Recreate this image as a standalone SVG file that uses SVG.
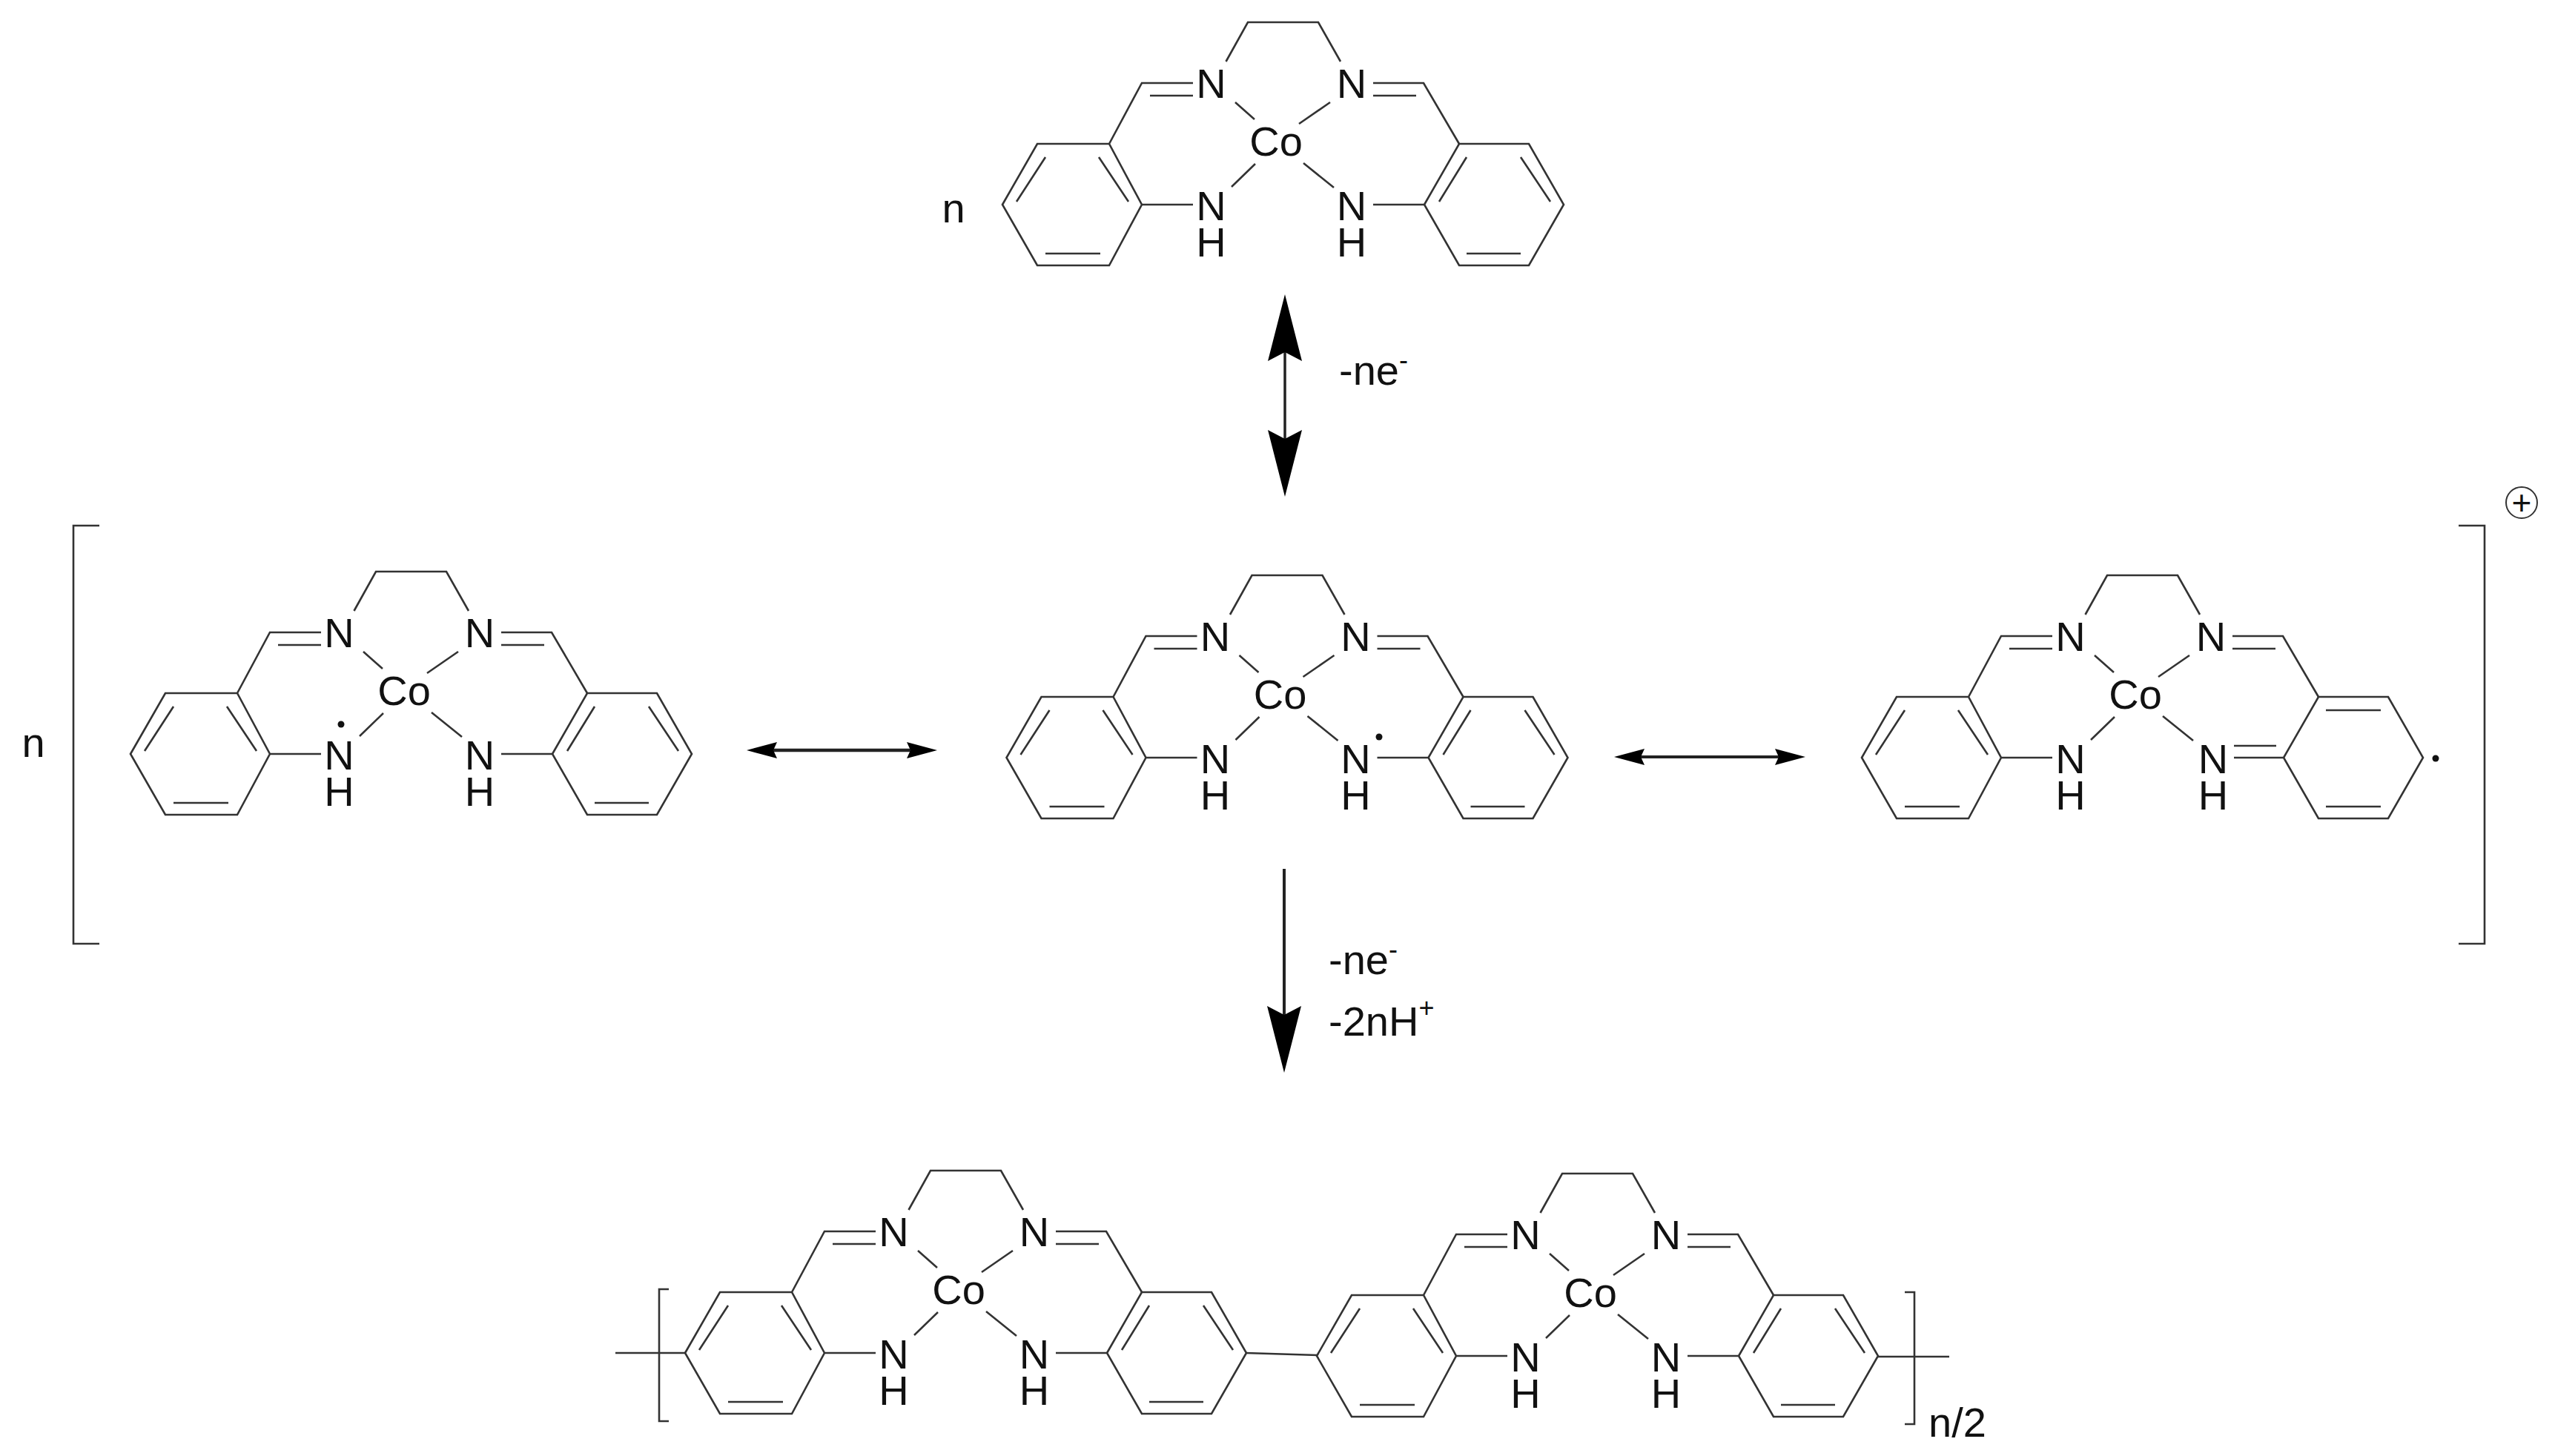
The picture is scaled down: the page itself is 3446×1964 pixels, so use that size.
<svg xmlns="http://www.w3.org/2000/svg" xmlns:xlink="http://www.w3.org/1999/xlink" width="3446" height="1964" viewBox="0 0 3446 1964">
<style>
text{font-family:"Liberation Sans",Arial,sans-serif;font-size:56px;fill:#111;text-anchor:middle}
.s{text-anchor:start}
.sup{font-size:36px}
.b{fill:none;stroke:#333;stroke-width:2.6;stroke-linecap:butt;stroke-linejoin:miter}
.a{fill:none;stroke:#222}
.dot{fill:#111}
</style>
<defs>
<marker id="big" markerUnits="userSpaceOnUse" markerWidth="95" markerHeight="50" refX="12" refY="23" orient="auto-start-reverse"><path d="M0,0L90,23L0,46L12,23Z" fill="#000"/></marker>
<marker id="small" markerUnits="userSpaceOnUse" markerWidth="45" markerHeight="24" refX="5" refY="11" orient="auto-start-reverse"><path d="M0,0L41,11L0,22L5,11Z" fill="#000"/></marker>
<path id="core" class="b" d="M-369,84L-322,2L-225,2L-181,84L-225,166L-322,166Z M-311,20L-350,80 M-239,20L-199,80 M-311,150L-237,150 M-181,84L-112,84 M-225,2L-181,-80L-112,-80 M-170,-63L-112,-63 M-67.5,-109L-38,-162L57,-162L87,-109 M131,-80L199,-80L247,2 M131,-63L189,-63 M-55,-54L-29,-31 M73,-54L31,-25 M-28,29L-60,60 M37,28L78,61"/>
<path id="ringR" class="b" d="M200,84L247,2L341,2L388,84L341,166L247,166Z M257,20L220,80 M330,20L370,80 M257,150L330,150 M131,84L200,84"/>
<path id="ringQ" class="b" d="M200,84L247,2L341,2L388,84L341,166L247,166Z M257,20L331,20 M257,150L331,150 M133,68L190,68 M133,84L200,84"/>
</defs>

<g id="mol-top" transform="translate(1721,192)">
<use href="#core" xlink:href="#core"/><use href="#ringR" xlink:href="#ringR"/>
<text x="-87.5" y="-60">N</text><text x="102" y="-60">N</text><text x="0" y="18">Co</text>
<text><tspan x="-87.5" y="105">N</tspan><tspan x="-87.5" y="154">H</tspan></text><text><tspan x="102" y="105">N</tspan><tspan x="102" y="154">H</tspan></text>
<text x="-435" y="108">n</text>
</g>

<g id="mol-left" transform="translate(545,933)">
<use href="#core" xlink:href="#core"/><use href="#ringR" xlink:href="#ringR"/>
<text x="-87.5" y="-60">N</text><text x="102" y="-60">N</text><text x="0" y="18">Co</text>
<text><tspan x="-87.5" y="105">N</tspan><tspan x="-87.5" y="154">H</tspan></text><text><tspan x="102" y="105">N</tspan><tspan x="102" y="154">H</tspan></text>
<circle class="dot" cx="-85" cy="44" r="4.5"/>
</g>

<g id="mol-middle" transform="translate(1726.5,938)">
<use href="#core" xlink:href="#core"/><use href="#ringR" xlink:href="#ringR"/>
<text x="-87.5" y="-60">N</text><text x="102" y="-60">N</text><text x="0" y="18">Co</text>
<text><tspan x="-87.5" y="105">N</tspan><tspan x="-87.5" y="154">H</tspan></text><text><tspan x="102" y="105">N</tspan><tspan x="102" y="154">H</tspan></text>
<circle class="dot" cx="133.5" cy="56" r="4.5"/>
</g>

<g id="mol-right" transform="translate(2880,938)">
<use href="#core" xlink:href="#core"/><use href="#ringQ" xlink:href="#ringQ"/>
<text x="-87.5" y="-60">N</text><text x="102" y="-60">N</text><text x="0" y="18">Co</text>
<text><tspan x="-87.5" y="105">N</tspan><tspan x="-87.5" y="154">H</tspan></text><text><tspan x="105" y="105">N</tspan><tspan x="105" y="154">H</tspan></text>
<circle class="dot" cx="405" cy="85" r="4.5"/>
</g>

<g id="resonance-bracket">
<path class="b" d="M134,709L99,709L99,1273L134,1273 M3316,709L3351,709L3351,1273L3316,1273"/>
<text x="45" y="1021">n</text>
<circle cx="3401" cy="678" r="21" fill="none" stroke="#333" stroke-width="2"/>
<text x="3401" y="694" style="font-size:46px">+</text>
</g>

<g id="polymer-unit-1" transform="translate(1293,1741)">
<use href="#core" xlink:href="#core"/><use href="#ringR" xlink:href="#ringR"/>
<text x="-87.5" y="-60">N</text><text x="102" y="-60">N</text><text x="0" y="18">Co</text>
<text><tspan x="-87.5" y="105">N</tspan><tspan x="-87.5" y="154">H</tspan></text><text><tspan x="102" y="105">N</tspan><tspan x="102" y="154">H</tspan></text>
</g>

<g id="polymer-unit-2" transform="translate(2145,1745)">
<use href="#core" xlink:href="#core"/><use href="#ringR" xlink:href="#ringR"/>
<text x="-87.5" y="-60">N</text><text x="102" y="-60">N</text><text x="0" y="18">Co</text>
<text><tspan x="-87.5" y="105">N</tspan><tspan x="-87.5" y="154">H</tspan></text><text><tspan x="102" y="105">N</tspan><tspan x="102" y="154">H</tspan></text>
</g>

<g id="polymer-ends">
<path class="b" d="M830,1825L924,1825 M1680,1825L1777,1828 M2533,1830L2629,1830 M902,1739L889,1739L889,1917L902,1917 M2569,1743L2582,1743L2582,1921L2569,1921"/>
<text class="s" x="2601" y="1938">n/2</text>
</g>

<g id="connectors">
<line class="a" stroke-width="3.5" x1="1733" y1="475" x2="1733" y2="592" marker-start="url(#big)" marker-end="url(#big)"/>
<line class="a" stroke-width="4.5" x1="1043" y1="1012" x2="1228" y2="1012" marker-start="url(#small)" marker-end="url(#small)"/>
<line class="a" stroke-width="4" x1="2213" y1="1021" x2="2399" y2="1021" marker-start="url(#small)" marker-end="url(#small)"/>
<line class="a" stroke-width="4" x1="1732" y1="1172" x2="1732" y2="1369" marker-end="url(#big)"/>
</g>

<g id="labels">
<text class="s" x="1806" y="519">-ne<tspan class="sup" dy="-21">-</tspan></text>
<text class="s" x="1792" y="1314">-ne<tspan class="sup" dy="-21">-</tspan></text>
<text class="s" x="1792" y="1397">-2nH<tspan class="sup" dy="-25">+</tspan></text>
</g>
</svg>
